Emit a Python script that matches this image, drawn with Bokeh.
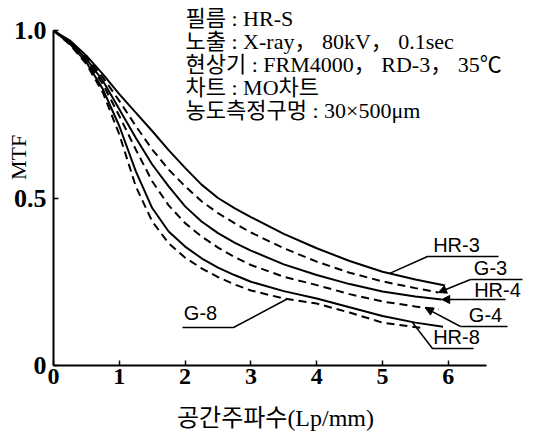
import numpy as np
from bokeh.plotting import figure
from bokeh.models import Label, Arrow, NormalHead, FixedTicker, Range1d, LinearAxis
from bokeh.embed import file_html
from bokeh.resources import INLINE

# ---------------- data ----------------
freq_hr3 = [0, 0.25, 0.5, 0.75, 1.0, 1.25, 1.5, 1.75, 2.0, 2.25, 2.5, 2.75, 3.0, 3.5, 4.0, 4.5, 5.0, 5.5, 5.95]
mtf_hr3 = [1.0, 0.97, 0.925, 0.87, 0.81, 0.755, 0.70, 0.643, 0.59, 0.54, 0.50, 0.47, 0.443, 0.393, 0.350, 0.312, 0.280, 0.257, 0.239]

freq_g3 = [0, 0.25, 0.5, 0.75, 1.0, 1.25, 1.5, 1.75, 2.0, 2.25, 2.5, 2.75, 3.0, 3.5, 4.0, 4.5, 5.0, 5.5, 5.85]
mtf_g3 = [1.0, 0.967, 0.92, 0.86, 0.79, 0.715, 0.645, 0.585, 0.535, 0.49, 0.455, 0.425, 0.397, 0.350, 0.310, 0.277, 0.251, 0.231, 0.218]

freq_hr4 = [0, 0.25, 0.5, 0.75, 1.0, 1.25, 1.5, 1.75, 2.0, 2.25, 2.5, 2.75, 3.0, 3.5, 4.0, 4.5, 5.0, 5.5, 5.9]
mtf_hr4 = [1.0, 0.965, 0.915, 0.85, 0.765, 0.68, 0.60, 0.535, 0.475, 0.43, 0.395, 0.367, 0.343, 0.302, 0.270, 0.243, 0.221, 0.206, 0.197]

freq_g4 = [0, 0.25, 0.5, 0.75, 1.0, 1.25, 1.5, 1.75, 2.0, 2.25, 2.5, 2.75, 3.0, 3.5, 4.0, 4.5, 5.0, 5.5, 5.85]
mtf_g4 = [1.0, 0.963, 0.91, 0.84, 0.745, 0.645, 0.55, 0.478, 0.425, 0.385, 0.352, 0.324, 0.300, 0.265, 0.240, 0.213, 0.191, 0.176, 0.167]

freq_hr8 = [0, 0.25, 0.5, 0.75, 1.0, 1.25, 1.5, 1.75, 2.0, 2.25, 2.5, 2.75, 3.0, 3.5, 4.0, 4.5, 5.0, 5.5, 5.92]
mtf_hr8 = [1.0, 0.96, 0.905, 0.825, 0.715, 0.58, 0.47, 0.40, 0.355, 0.32, 0.292, 0.27, 0.250, 0.222, 0.200, 0.174, 0.148, 0.128, 0.116]

freq_g8 = [0, 0.25, 0.5, 0.75, 1.0, 1.25, 1.5, 1.75, 2.0, 2.25, 2.5, 2.75, 3.0, 3.5, 4.0, 4.5, 5.0, 5.6]
mtf_g8 = [1.0, 0.958, 0.90, 0.815, 0.69, 0.535, 0.43, 0.365, 0.322, 0.29, 0.264, 0.242, 0.224, 0.200, 0.185, 0.158, 0.128, 0.112]

x_ticks = [0, 1, 2, 3, 4, 5, 6]
y_ticks = [0, 0.5, 1.0]
y_tick_labels = ["0", "0.5", "1.0"]

info_lines = [
    "필름 : HR-S",
    "노출 : X-ray， 80kV， 0.1sec",
    "현상기 : FRM4000， RD-3， 35℃",
    "차트 : MO차트",
    "농도측정구멍 : 30×500μm",
]
x_title = "공간주파수(Lp/mm)"
y_title = "MTF"

# ---------------- layout ----------------
W, H = 534, 432
X0, SX = 53, 65.8      # px of x=0, px per unit
Y0, SY = 365, 335      # px of y=0, px per unit

def dx(px):
    return (px - X0) / SX

def dy(py):
    return (Y0 - py) / SY

SERIF = "Liberation Serif, Noto Sans CJK KR"
SANS = "Liberation Sans"

p = figure(width=W, height=H, output_backend="svg", toolbar_location=None,
           x_range=Range1d(dx(0), dx(W)), y_range=Range1d(dy(H), dy(0)),
           x_axis_location=None, y_axis_location=None,
           min_border_left=0, min_border_right=0, min_border_top=0,
           min_border_bottom=0)
p.outline_line_color = None
p.grid.visible = False
p.background_fill_color = "white"
p.border_fill_color = "white"

xaxis = LinearAxis(fixed_location=0, bounds=(0, 6.58), ticker=FixedTicker(ticks=x_ticks))
yaxis = LinearAxis(fixed_location=0, bounds=(0, 1.0), ticker=FixedTicker(ticks=y_ticks))
p.add_layout(xaxis, "below")
p.add_layout(yaxis, "left")

for ax in (xaxis, yaxis):
    ax.axis_line_width = 2
    ax.axis_line_color = "black"
    ax.major_tick_in = 5
    ax.major_tick_out = 0
    ax.major_tick_line_width = 1.5
    ax.minor_tick_line_color = None
    ax.major_label_text_font = "Liberation Serif"
    ax.major_label_text_font_style = "bold"
    ax.major_label_text_font_size = "24px"
    ax.major_label_text_color = "black"

yaxis.major_label_text_font_size = "26px"
xaxis.major_label_standoff = 3
yaxis.major_label_overrides = {t: s for t, s in zip(y_ticks, y_tick_labels)}
yaxis.major_label_standoff = 7

series = [
    ("HR-3", freq_hr3, mtf_hr3, "solid"),
    ("G-3", freq_g3, mtf_g3, "8 5"),
    ("HR-4", freq_hr4, mtf_hr4, "solid"),
    ("G-4", freq_g4, mtf_g4, "8 5"),
    ("HR-8", freq_hr8, mtf_hr8, "solid"),
    ("G-8", freq_g8, mtf_g8, "8 5"),
]
for name, fx, fy, dash in series:
    p.line(fx, fy, line_color="black", line_width=2, line_dash=dash)

def on_curve(fx, fy, f):
    return (f, float(np.interp(f, fx, fy)))

tip_hr3 = on_curve(freq_hr3, mtf_hr3, 5.11)
tip_g3 = (freq_g3[-1], mtf_g3[-1])
tip_hr4 = (freq_hr4[-1], mtf_hr4[-1])
tip_g4 = on_curve(freq_g4, mtf_g4, 5.65)
tip_hr8 = on_curve(freq_hr8, mtf_hr8, 5.45)
tip_g8 = on_curve(freq_g8, mtf_g8, 3.55)

# curve labels: text centre (px), leader path (px) ending at a tip on the curve, arrow?
labels = [
    ("HR-3", (456, 244), [(498, 256), (427, 256)], tip_hr3, False),
    ("G-3", (490, 267), [(522, 279), (470, 279)], tip_g3, True),
    ("HR-4", (497, 289), [(505, 299), (470, 299)], tip_hr4, True),
    ("G-4", (485, 314), [(507, 326), (460, 326)], tip_g4, True),
    ("HR-8", (456, 336), [(473, 348), (432, 348)], tip_hr8, False),
    ("G-8", (200, 312), [(182, 327), (233, 327)], tip_g8, False),
]
for text, (tx, ty), path, tip, arrow in labels:
    p.add_layout(Label(x=dx(tx), y=dy(ty), text=text, text_align="center",
                       text_baseline="middle", text_font=SANS,
                       text_font_size="20px", text_color="black"))
    xs = [dx(a) for a, b in path]
    ys = [dy(b) for a, b in path]
    if arrow:
        p.line(xs, ys, line_color="black", line_width=1.5)
        p.add_layout(Arrow(end=NormalHead(size=8, fill_color="black", line_color="black"),
                           x_start=xs[-1], y_start=ys[-1], x_end=tip[0], y_end=tip[1],
                           line_color="black", line_width=1.5))
    else:
        p.line(xs + [tip[0]], ys + [tip[1]], line_color="black", line_width=1.5)

# info block
for i, line in enumerate(info_lines):
    p.add_layout(Label(x=dx(185), y=dy(18 + 23 * i), text=line, text_align="left",
                       text_baseline="middle", text_font=SERIF,
                       text_font_size="22px", text_color="black"))

# axis titles
p.add_layout(Label(x=dx(275), y=dy(417), text=x_title, text_align="center",
                   text_baseline="middle", text_font=SERIF, text_font_size="24px",
                   text_color="black"))
p.add_layout(Label(x=dx(18), y=dy(157), text=y_title, text_align="center",
                   text_baseline="middle", text_font="Liberation Serif",
                   text_font_size="22px", text_color="black", angle=np.pi / 2))

open("out.html", "w").write(file_html(p, INLINE))
